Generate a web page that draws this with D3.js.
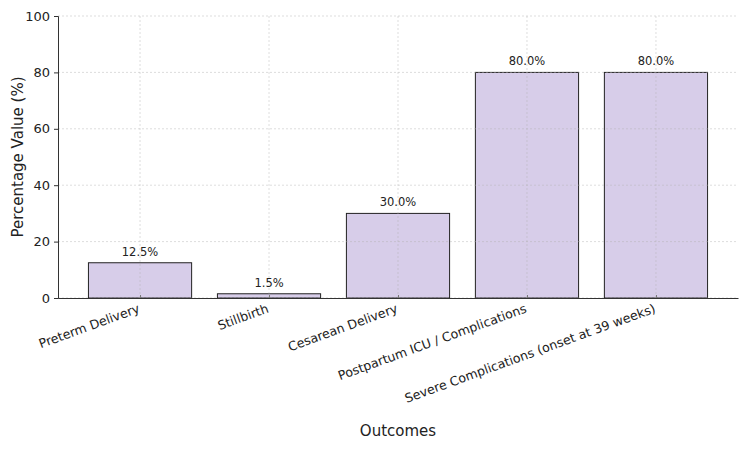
<!DOCTYPE html>
<html>
<head>
<meta charset="utf-8">
<script src="https://cdn.jsdelivr.net/npm/d3@7"></script>
<style>
  body { margin: 0; background: #fff; }
  text { font-family: "DejaVu Sans", sans-serif; fill: #222; }
</style>
</head>
<body>
<div id="wrapper"></div>
<script>
const categories = [
    "Preterm Delivery",
    "Stillbirth",
    "Cesarean Delivery",
    "Postpartum ICU / Complications",
    "Severe Complications (onset at 39 weeks)"
]
const values = [12.5, 1.5, 30.0, 80.0, 80.0]
const yTicks = [0, 20, 40, 60, 80, 100]

const width = 750
const height = 450
const margin = {top: 16, right: 12, bottom: 152, left: 58}

const svg = d3.select("#wrapper")
    .append("svg")
    .attr("width", width)
    .attr("height", height)

const x = d3.scaleLinear()
    .domain([-0.636, categories.length - 1 + 0.636])
    .range([margin.left, width - margin.right])

const y = d3.scaleLinear()
    .domain([0, 100])
    .range([height - margin.bottom, margin.top])

const barWidth = x(0.8) - x(0)

// bars
svg.selectAll(".bar")
    .data(values)
    .join("rect")
    .attr("class", "bar")
    .attr("x", (d, i) => x(i) - barWidth / 2)
    .attr("y", d => y(d))
    .attr("width", barWidth)
    .attr("height", d => y(0) - y(d))
    .attr("fill", "#d7cde9")
    .attr("stroke", "#222")
    .attr("stroke-width", 1)

// grid (drawn over bars, like the source)
const grid = svg.append("g")
    .attr("stroke", "#b0b0b0")
    .attr("stroke-opacity", 0.55)
    .attr("stroke-dasharray", "2,2")
    .attr("stroke-width", 0.8)

grid.selectAll(".hgrid")
    .data(yTicks)
    .join("line")
    .attr("x1", margin.left)
    .attr("x2", width - margin.right)
    .attr("y1", d => y(d))
    .attr("y2", d => y(d))

grid.selectAll(".vgrid")
    .data(categories)
    .join("line")
    .attr("x1", (d, i) => x(i))
    .attr("x2", (d, i) => x(i))
    .attr("y1", y(100))
    .attr("y2", y(0))

// value labels
svg.selectAll(".value")
    .data(values)
    .join("text")
    .attr("class", "value")
    .attr("x", (d, i) => x(i))
    .attr("y", d => y(d) - 7)
    .attr("text-anchor", "middle")
    .style("font-size", "11.5px")
    .text(d => `${d3.format(".1f")(d)}%`)

// y axis
const yAxis = svg.append("g")
    .attr("transform", `translate(${margin.left},0)`)
    .call(d3.axisLeft(y).tickValues(yTicks).tickSize(4).tickPadding(4))
yAxis.select(".domain").attr("stroke", "#333")
yAxis.selectAll(".tick line").attr("stroke", "#333")
yAxis.selectAll(".tick text").style("font-size", "13px").attr("fill", "#222")

// x axis
const xAxis = svg.append("g")
    .attr("transform", `translate(0,${y(0)})`)
    .call(d3.axisBottom(x)
        .tickValues(d3.range(categories.length))
        .tickSize(-3)
        .tickSizeOuter(0)
        .tickFormat(i => categories[i]))
xAxis.select(".domain").attr("stroke", "#333")
xAxis.selectAll(".tick line").attr("stroke", "#777")
xAxis.selectAll(".tick text")
    .style("font-size", "12.6px")
    .attr("fill", "#222")
    .attr("text-anchor", "end")
    .attr("dy", null)
    .attr("y", 0)
    .attr("transform", "translate(0,14) rotate(-20)")

// axis titles
svg.append("text")
    .attr("x", (margin.left + width - margin.right) / 2)
    .attr("y", 436)
    .attr("text-anchor", "middle")
    .style("font-size", "15px")
    .text("Outcomes")

svg.append("text")
    .attr("transform", `translate(23,${(y(0) + y(100)) / 2}) rotate(-90)`)
    .attr("text-anchor", "middle")
    .style("font-size", "15px")
    .text("Percentage Value (%)")
</script>
</body>
</html>
